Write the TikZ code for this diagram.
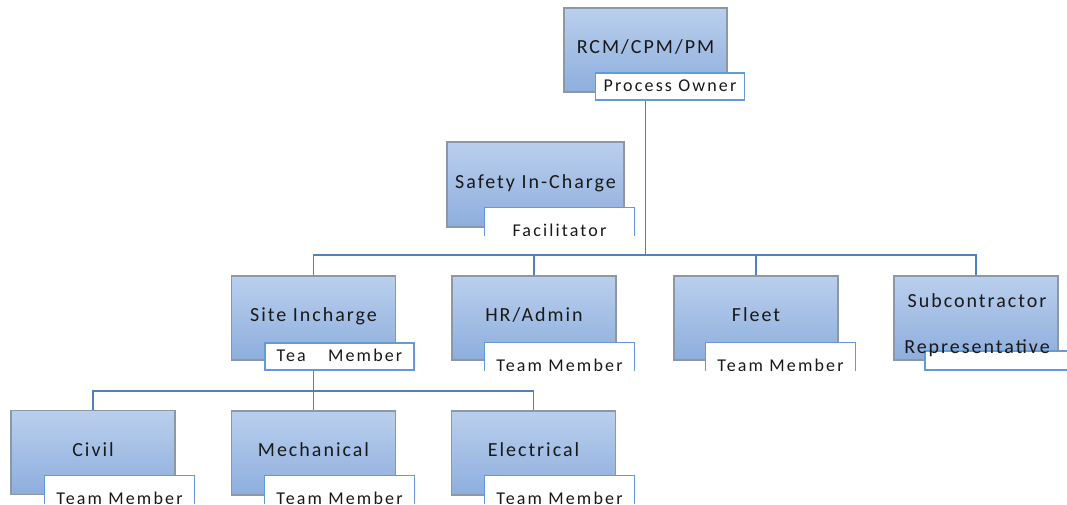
\documentclass[tikz,border=0pt]{standalone}
\usepackage{fontspec}
\setmainfont{Carlito}
\newfontfamily\boxfont[LetterSpace=10]{Carlito}
\newfontfamily\lblfont[LetterSpace=12]{Carlito}
\usetikzlibrary{calc}
\definecolor{boxtop}{RGB}{186,207,237}
\definecolor{boxbot}{RGB}{141,174,221}
\definecolor{boxline}{RGB}{140,152,165}
\definecolor{lblline}{RGB}{100,155,215}
\definecolor{linkcol}{RGB}{79,129,189}
\definecolor{txt}{RGB}{25,25,25}
\tikzset{
  unitbox/.style={draw=boxline, line width=1.2pt, top color=boxtop, bottom color=boxbot,
    minimum width=164pt, minimum height=84pt, inner sep=0pt,
    font=\boxfont\fontsize{20}{24}\selectfont, text height=10pt, text depth=3pt, text=txt},
  lbl/.style={draw=lblline, line width=1.2pt, fill=white, minimum width=149pt,
    minimum height=27pt, inner sep=0pt, font=\lblfont\fontsize{18}{22}\selectfont,
    text height=12pt, text depth=2pt, text=txt},
  openlbl/.style={lbl, draw=none},
  lbltext/.style={inner sep=0pt, font=\lblfont\fontsize{18}{22}\selectfont, text=txt},
  link/.style={draw=linkcol, line width=1.6pt},
}
% label whose lower edge is cut away, with its text cut with it
\newcommand\cliptext[2]{%
  \draw[draw=lblline, line width=1.2pt] (#1.south west) |- (#1.north east) -- (#1.south east);
  \begin{scope}
    \clip (#1.north west) rectangle (#1.south east);
    \node[lbltext, anchor=base] (#1-t) at ([yshift=-29pt]#1.north) {#2};
  \end{scope}}
\begin{document}
\begin{tikzpicture}[x=1pt, y=-1pt]
\useasboundingbox (0,0) rectangle (1067,504);
\fill[white] (0,0) rectangle (1067,504);
\clip (0,0) rectangle (1067,504);

% boxes (positions)
\path
  (645.5,50)  node[unitbox, minimum width=163pt] (rcm) {}
  (535.5,184.5) node[unitbox, minimum width=177pt, minimum height=85pt] (safety) {}
  (313.5,318) node[unitbox] (site) {}
  (534,318)   node[unitbox] (hr) {}
  (756,318)   node[unitbox] (fleet) {}
  (976,318)   node[unitbox] (sub) {}
  (93,452.5)  node[unitbox] (civil) {}
  (313.5,453) node[unitbox] (mech) {}
  (533.5,453) node[unitbox] (elec) {};

% connectors
\coordinate (bus1) at (rcm.south |- 0,255);
\coordinate (bus2) at (site.south |- 0,391);
\draw[link] (rcm.south) -- (bus1);
\draw[link] (bus1) -| (site.north);
\draw[link] (bus1) -| (hr.north);
\draw[link] (bus1) -| (fleet.north);
\draw[link] (bus1) -| (sub.north);
\draw[link] (site.south) -- (bus2);
\draw[link] (bus2) -| (civil.north);
\draw[link] (bus2) -| (mech.north);
\draw[link] (bus2) -| (elec.north);

% boxes drawn over the connectors
\path
  (645.5,50)  node[unitbox, minimum width=163pt] (rcm2) {RCM/CPM/PM}
  (535.5,184.5) node[unitbox, minimum width=177pt, minimum height=85pt] (safety2) {Safety In-Charge}
  (313.5,318) node[unitbox] (site2) {Site Incharge}
  (534,318)   node[unitbox] (hr2) {HR/Admin}
  (756,318)   node[unitbox] (fleet2) {Fleet}
  (976,318)   node[unitbox] (sub2) {}
  (93,452.5)  node[unitbox] (civil2) {Civil}
  (313.5,453) node[unitbox] (mech2) {Mechanical}
  (533.5,453) node[unitbox] (elec2) {Electrical};

% role labels
\node[lbl] (po) at (670,86.5) {Process Owner};
\node[lbl] (sitel) at (339.5,356.5) {Tea\hspace*{16pt} Member};
\node[openlbl] (safl) at (559.5,221.5) {};
\cliptext{safl}{Facilitator}
\node[openlbl] (hrl) at (559.5,356.5) {};
\cliptext{hrl}{Team Member}
\node[openlbl] (fleetl) at (780.5,356.5) {};
\cliptext{fleetl}{Team Member}
\node[lbl, minimum height=19pt] (subl) at (999.5,360.5) {};
\node[openlbl] (civill) at (119.5,489.5) {};
\cliptext{civill}{Team Member}
\node[openlbl] (mechl) at (339.5,489.5) {};
\cliptext{mechl}{Team Member}
\node[openlbl] (elecl) at (559.5,489.5) {};
\cliptext{elecl}{Team Member}

% subcontractor text on top of its label
\node[inner sep=0pt, align=center, text=txt,
      font=\boxfont\fontsize{20}{46}\selectfont] (subt) at (977,325)
  {Subcontractor\\Representative};
\end{tikzpicture}
\end{document}
